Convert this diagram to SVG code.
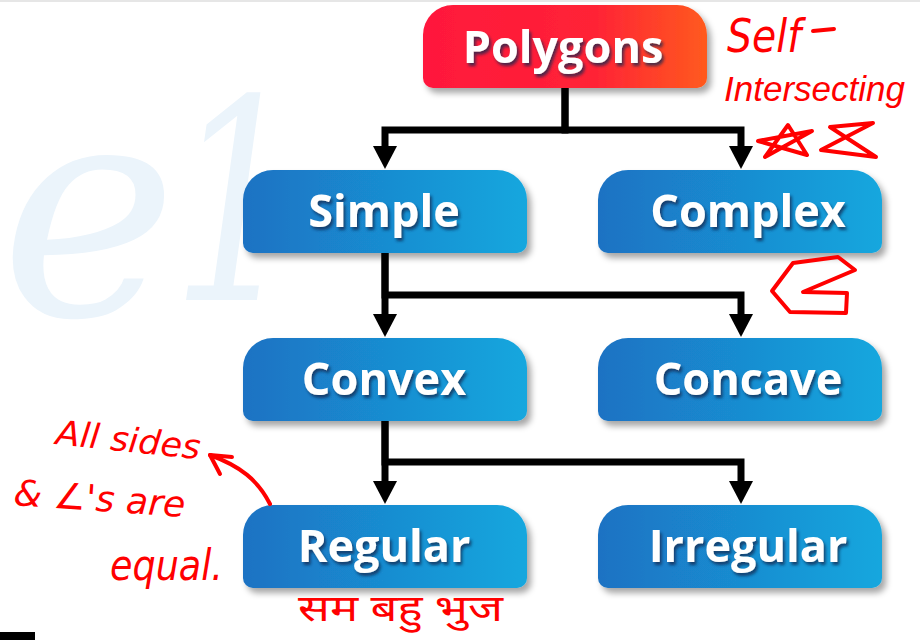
<svg xmlns="http://www.w3.org/2000/svg" width="920" height="640" viewBox="0 0 920 640">
<defs>
  <linearGradient id="gRed" x1="0" y1="0" x2="1" y2="0">
    <stop offset="0" stop-color="#ff183c"/>
    <stop offset="0.6" stop-color="#ff2236"/>
    <stop offset="1" stop-color="#ff5a1e"/>
  </linearGradient>
  <linearGradient id="gBlue" x1="0" y1="0" x2="1" y2="0">
    <stop offset="0" stop-color="#1b72c3"/>
    <stop offset="1" stop-color="#17a7de"/>
  </linearGradient>
  <filter id="boxShadow" x="-10%" y="-10%" width="125%" height="135%">
    <feDropShadow dx="4" dy="5" stdDeviation="3" flood-color="#000" flood-opacity="0.35"/>
  </filter>
  <filter id="txtShadow" x="-10%" y="-20%" width="125%" height="150%">
    <feDropShadow dx="2" dy="3" stdDeviation="1.5" flood-color="#0a2a50" flood-opacity="0.75"/>
  </filter>
  <path id="nodeShape" d="M30,0 H254 A30,30 0 0 1 284,30 V73 A10,10 0 0 1 274,83 H10 A10,10 0 0 1 0,73 V30 A30,30 0 0 1 30,0 Z"/>
  <marker id="arrow" markerUnits="userSpaceOnUse" markerWidth="24" markerHeight="26" refX="0" refY="12" orient="auto">
    <path d="M0,0 L23,12 L0,24 Z" fill="#000"/>
  </marker>
  <style>
    .lbl { font-family: "Open Sans", "Noto Sans", "DejaVu Sans", sans-serif; font-weight: 700; font-size: 45px; fill: #ffffff; text-anchor: middle; }
    .conn { fill: none; stroke: #000; stroke-width: 7; stroke-linejoin: miter; marker-end: url(#arrow); }
    .ink { fill: none; stroke: #ff0000; stroke-width: 4; stroke-linecap: round; stroke-linejoin: round; }
    .hand { font-family: "DejaVu Sans", "Liberation Sans", sans-serif; font-style: italic; fill: #ff0000; }
    .hand2 { font-family: "Liberation Sans", "Arimo", sans-serif; font-style: italic; fill: #ff0000; }
    .hindi { font-family: "Noto Sans Devanagari", "Lohit Devanagari", "Noto Sans", "DejaVu Sans", sans-serif; fill: #ff0000; }
    .wm { font-family: "DejaVu Serif", serif; font-style: italic; fill: #ebf4fb; }
  </style>
</defs>
<rect width="920" height="640" fill="#ffffff"/>
<rect x="0" y="0" width="920" height="2" fill="#e6e6e6"/>
<text class="wm" x="0" y="315" font-size="300">e</text>
<text class="wm" x="172" y="300" font-size="280" textLength="128" lengthAdjust="spacingAndGlyphs">1</text>

<g id="connectors">
  <path class="conn" d="M565,88 V130 H385 V146"/>
  <path class="conn" d="M565,88 V130 H741 V146"/>
  <path class="conn" d="M385,253 V314"/>
  <path class="conn" d="M385,253 V295 H741 V314"/>
  <path class="conn" d="M385,421 V481"/>
  <path class="conn" d="M385,421 V462 H741 V481"/>
</g>

<g id="node-polygons">
  <use href="#nodeShape" x="423" y="5" fill="url(#gRed)" filter="url(#boxShadow)"/>
  <text class="lbl" x="563" y="63" filter="url(#txtShadow)">Polygons</text>
</g>
<g id="node-simple">
  <use href="#nodeShape" x="243" y="170" fill="url(#gBlue)" filter="url(#boxShadow)"/>
  <text class="lbl" x="384" y="227" filter="url(#txtShadow)">Simple</text>
</g>
<g id="node-complex">
  <use href="#nodeShape" x="598" y="170" fill="url(#gBlue)" filter="url(#boxShadow)"/>
  <text class="lbl" x="748" y="227" filter="url(#txtShadow)">Complex</text>
</g>
<g id="node-convex">
  <use href="#nodeShape" x="243" y="338" fill="url(#gBlue)" filter="url(#boxShadow)"/>
  <text class="lbl" x="384" y="395" filter="url(#txtShadow)">Convex</text>
</g>
<g id="node-concave">
  <use href="#nodeShape" x="598" y="338" fill="url(#gBlue)" filter="url(#boxShadow)"/>
  <text class="lbl" x="748" y="395" filter="url(#txtShadow)">Concave</text>
</g>
<g id="node-regular">
  <use href="#nodeShape" x="243" y="505" fill="url(#gBlue)" filter="url(#boxShadow)"/>
  <text class="lbl" x="384" y="562" filter="url(#txtShadow)">Regular</text>
</g>
<g id="node-irregular">
  <use href="#nodeShape" x="598" y="505" fill="url(#gBlue)" filter="url(#boxShadow)"/>
  <text class="lbl" x="748" y="562" filter="url(#txtShadow)">Irregular</text>
</g>

<g id="annotations">
  <text class="hand" x="727" y="52" font-size="46" textLength="74" lengthAdjust="spacingAndGlyphs">Self</text>
  <path class="ink" d="M813,31 L834,29"/>
  <text class="hand2" x="724" y="101" font-size="35">Intersecting</text>
  <path class="ink" d="M765,157 L788,125 L807,155 L758,141 L812,131 Z"/>
  <path class="ink" d="M830,127 L873,123 L821,150 L876,157 Z"/>
  <path class="ink" d="M793,263 L838,257 L855,270 L803,292 L847,293 L846,313 L790,312 L772,291 Z"/>
  <text class="hand" x="55" y="444" font-size="34" textLength="145" lengthAdjust="spacingAndGlyphs" transform="rotate(6 55 444)">All sides</text>
  <text class="hand" x="13" y="505" font-size="36" textLength="172" lengthAdjust="spacingAndGlyphs" transform="rotate(4 13 505)">&amp; ∠'s are</text>
  <text class="hand" x="110" y="580" font-size="42" textLength="113" lengthAdjust="spacingAndGlyphs">equal.</text>
  <path class="ink" d="M270,504 C258,480 240,466 210,455"/>
  <path class="ink" d="M210,455 L232,457 M210,455 L220,474"/>
  <text class="hindi" x="298" y="621" font-size="37" textLength="205" lengthAdjust="spacingAndGlyphs">सम बहु भुज</text>
</g>
<rect x="0" y="632" width="35" height="8" fill="#000"/>
</svg>
